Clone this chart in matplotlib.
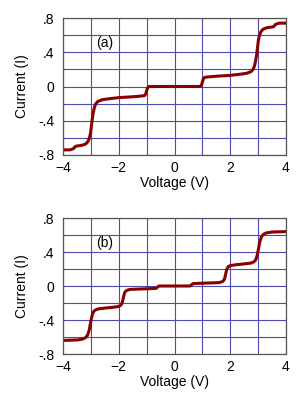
import matplotlib
matplotlib.use("Agg")
import matplotlib.pyplot as plt
from matplotlib.ticker import MultipleLocator

plt.rcParams['font.family'] = ['Liberation Sans', 'DejaVu Sans']

# Panel (a)
va = [-4.0, -3.75, -3.62, -3.56, -3.5, -3.3, -3.18, -3.1, -3.05, -3.01, -2.98, -2.95,
      -2.91, -2.87, -2.82, -2.75, -2.6, -2.4, -2.0, -1.5, -1.15, -1.07, -1.03, -1.0,
      -0.97, -0.94, -0.9, -0.5, 0.0, 0.5, 0.9, 0.94, 0.97, 1.0, 1.03, 1.07, 1.15,
      1.5, 2.0, 2.4, 2.6, 2.75, 2.82, 2.87, 2.91, 2.95, 2.98, 3.01, 3.05, 3.1, 3.18,
      3.3, 3.5, 3.56, 3.62, 3.75, 4.0]
ia = [-0.74, -0.74, -0.725, -0.70, -0.695, -0.685, -0.67, -0.64, -0.60, -0.54, -0.46, -0.38,
      -0.30, -0.24, -0.20, -0.175, -0.155, -0.145, -0.13, -0.12, -0.11, -0.105, -0.085, -0.05,
      -0.02, -0.005, 0.0, 0.0, 0.0, 0.0, 0.0, 0.005, 0.02, 0.05, 0.085, 0.105, 0.11,
      0.12, 0.13, 0.145, 0.155, 0.175, 0.20, 0.24, 0.30, 0.38, 0.46, 0.54, 0.60, 0.64, 0.67,
      0.685, 0.695, 0.70, 0.725, 0.74, 0.74]

# Panel (b)
vb = [-4.0, -3.5, -3.3, -3.2, -3.12, -3.06, -3.02, -2.98, -2.94, -2.9, -2.85, -2.75,
      -2.5, -2.2, -2.0, -1.92, -1.87, -1.83, -1.79, -1.75, -1.7, -1.6, -1.2, -0.8,
      -0.66, -0.6, -0.55, -0.3, 0.0, 0.3, 0.55, 0.6, 0.66, 0.8, 1.2, 1.6, 1.7, 1.75,
      1.79, 1.83, 1.87, 1.92, 2.0, 2.2, 2.5, 2.75, 2.85, 2.9, 2.94, 2.98, 3.02, 3.06,
      3.12, 3.2, 3.3, 3.5, 4.0]
ib = [-0.64, -0.635, -0.625, -0.61, -0.58, -0.52, -0.45, -0.38, -0.33, -0.30, -0.285, -0.27,
      -0.26, -0.25, -0.24, -0.225, -0.19, -0.13, -0.08, -0.06, -0.05, -0.04, -0.035, -0.03,
      -0.028, -0.01, 0.0, 0.0, 0.0, 0.0, 0.0, 0.01, 0.028, 0.03, 0.035, 0.04, 0.05, 0.06,
      0.08, 0.13, 0.19, 0.225, 0.24, 0.25, 0.26, 0.27, 0.285, 0.30, 0.33, 0.38, 0.45, 0.52,
      0.58, 0.61, 0.625, 0.635, 0.64]

labels = ["(a)", "(b)"]
xticks = [-4, -2, 0, 2, 4]
xticklabels = ["\u22124", "\u22122", "0", "2", "4"]
yticks = [-0.8, -0.4, 0.0, 0.4, 0.8]
yticklabels = ["-.8", "-.4", "0", ".4", ".8"]

fig = plt.figure(figsize=(3.08, 4.0), dpi=100)
rects = [[63/308, 1-155/400, 223/308, 137/400],
         [63/308, 1-354/400, 223/308, 136/400]]

for rect, (v, i), lab in zip(rects, [(va, ia), (vb, ib)], labels):
    ax = fig.add_axes(rect)
    ax.set_xlim(-4, 4)
    ax.set_ylim(-0.8, 0.8)
    ax.xaxis.set_minor_locator(MultipleLocator(1))
    ax.yaxis.set_minor_locator(MultipleLocator(0.2))
    ax.set_xticks(xticks)
    ax.set_xticklabels(xticklabels)
    ax.set_yticks(yticks)
    ax.set_yticklabels(yticklabels)
    ax.grid(True, which='both', color='#4a4ab0', linewidth=0.8)
    ax.set_axisbelow(True)
    ax.tick_params(which='both', length=0, labelsize=10, colors='black')
    ax.tick_params(axis='y', pad=6)
    ax.tick_params(axis='x', pad=4)
    for s in ax.spines.values():
        s.set_color('#555555')
        s.set_linewidth(0.9)
    ax.plot(v, i, color='#880000', linewidth=2.2, solid_capstyle='round')
    ax.text(-2.5, 0.51, lab, fontsize=10, ha='center', va='center')
    ax.set_xlabel("Voltage (V)", fontsize=10, labelpad=1)
    ax.set_ylabel("Current (I)", fontsize=10, labelpad=7)

fig.savefig("out.png", dpi=100)
